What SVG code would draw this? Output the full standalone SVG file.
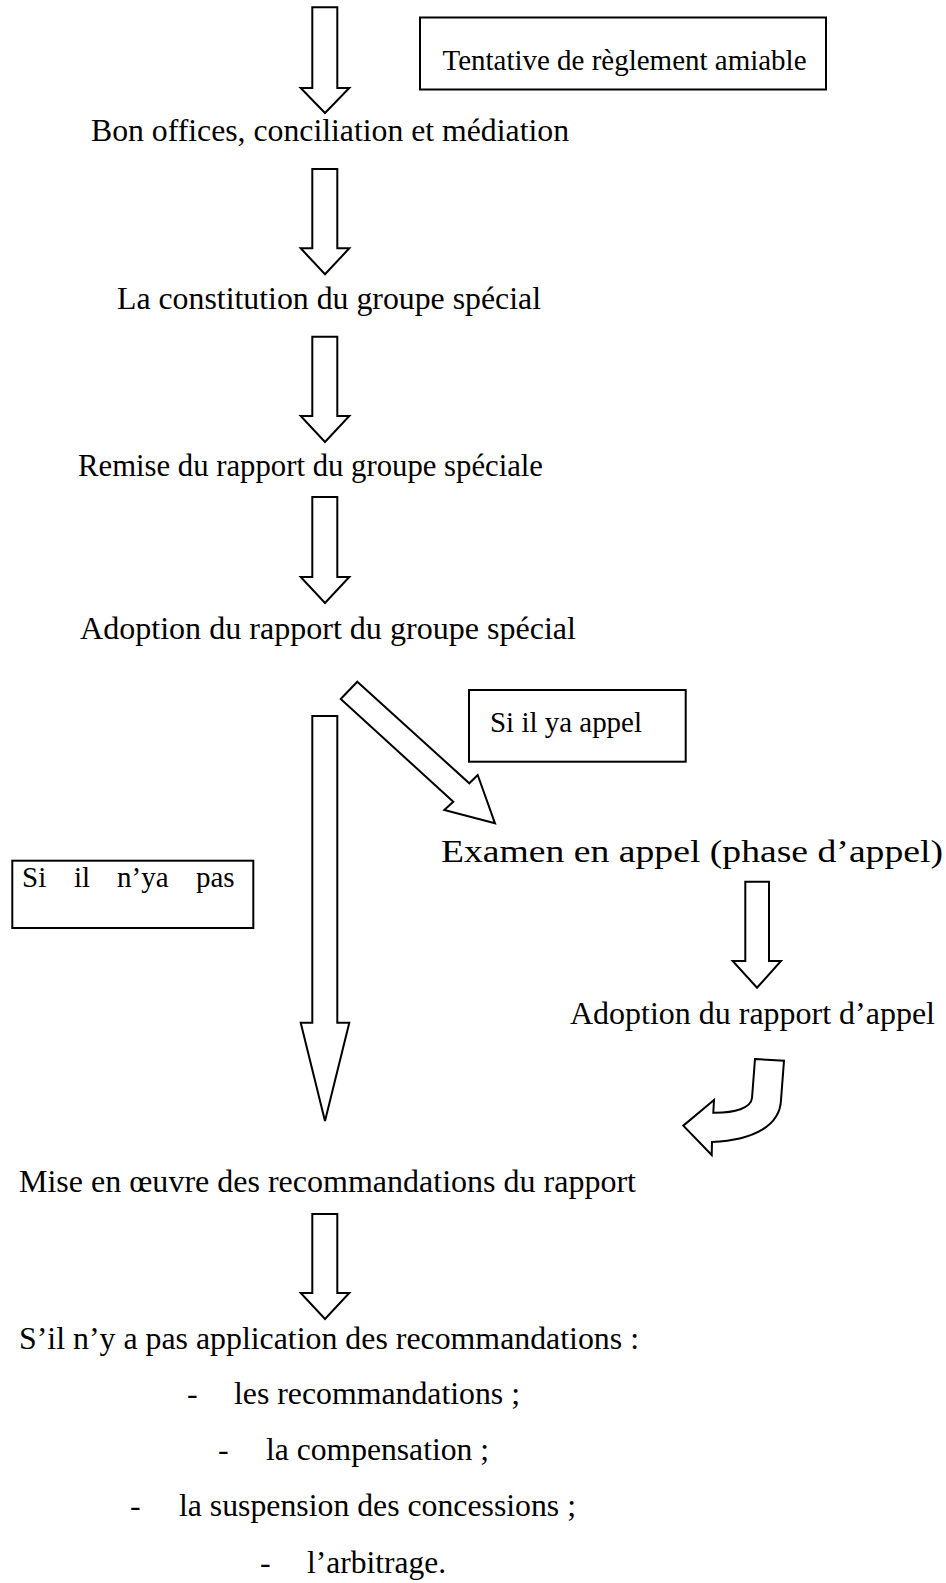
<svg xmlns="http://www.w3.org/2000/svg" width="946" height="1583" viewBox="0 0 946 1583">
<style>
.t{font-family:"Liberation Serif","Times New Roman",serif;font-size:32px;fill:#000}
.bt{font-family:"Liberation Serif","Times New Roman",serif;font-size:29px;fill:#000}
.box{fill:#fff;stroke:#000;stroke-width:2}
.arr{fill:#fff;stroke:#000;stroke-width:2;stroke-linejoin:miter}
</style>
<rect width="946" height="1583" fill="#fff"/>
<g id="connectors">
<path class="arr" d="M312.3,7.3 H337.3 V88 H349.3 L325,113 L300.7,88 H312.3 Z"/>
<path class="arr" d="M312.3,169 H337.3 V248.3 H349.3 L325,274.3 L300.7,248.3 H312.3 Z"/>
<path class="arr" d="M312.3,336.7 H337.3 V416 H349.3 L325,442 L300.7,416 H312.3 Z"/>
<path class="arr" d="M312.3,497 H337.3 V577 H349.3 L325,603 L300.7,577 H312.3 Z"/>
<path class="arr" d="M357.3,681.7 L469.3,783.3 L477.7,775 L495,823.3 L444.3,810 L453.3,801.7 L340.7,699 Z"/>
<path class="arr" d="M312.3,716 H337.3 V1022.7 H349.3 L325,1121 L300.7,1022.7 H312.3 Z"/>
<path class="arr" d="M745.3,881.7 H769 V961 H781 L757,987.7 L732.7,961 H745.3 Z"/>
<path class="arr" d="M755,1059 L784,1060.7 L781,1100 C780,1125 755,1140 712,1142 L711.7,1155 L683.3,1125.7 L714,1100 L713.3,1112.7 C735,1113 751,1108 752,1098 Z"/>
<path class="arr" d="M312.3,1214 H337.3 V1293 H349.3 L325,1319 L300.7,1293 H312.3 Z"/>
</g>
<g id="n-tentative">
<rect class="box" x="420" y="17.5" width="406" height="72"/>
<text class="bt" x="442.5" y="70" textLength="364" lengthAdjust="spacingAndGlyphs">Tentative de règlement amiable</text>
</g>
<g id="n-bons-offices">
<text class="t" x="91" y="141" textLength="478" lengthAdjust="spacingAndGlyphs">Bon offices, conciliation et médiation</text>
</g>
<g id="n-constitution">
<text class="t" x="117" y="309" textLength="424" lengthAdjust="spacingAndGlyphs">La constitution du groupe spécial</text>
</g>
<g id="n-remise">
<text class="t" x="78" y="476" textLength="465" lengthAdjust="spacingAndGlyphs">Remise du rapport du groupe spéciale</text>
</g>
<g id="n-adoption-gs">
<text class="t" x="80" y="639" textLength="496" lengthAdjust="spacingAndGlyphs">Adoption du rapport du groupe spécial</text>
</g>
<g id="n-si-appel">
<rect class="box" x="469" y="690" width="216.7" height="71.7"/>
<text class="bt" x="490" y="732" textLength="152" lengthAdjust="spacingAndGlyphs">Si il ya appel</text>
</g>
<g id="n-si-pas">
<rect class="box" x="12.3" y="860.7" width="241" height="67.3"/>
<text class="bt" y="887"><tspan x="22">Si</tspan><tspan x="74">il</tspan><tspan x="117">n’ya</tspan><tspan x="196">pas</tspan></text>
</g>
<g id="n-examen">
<text class="t" x="441" y="862" textLength="502" lengthAdjust="spacingAndGlyphs">Examen en appel (phase d’appel)</text>
</g>
<g id="n-adoption-appel">
<text class="t" x="570" y="1024" textLength="365" lengthAdjust="spacingAndGlyphs">Adoption du rapport d’appel</text>
</g>
<g id="n-mise">
<text class="t" x="19" y="1192" textLength="617" lengthAdjust="spacingAndGlyphs">Mise en œuvre des recommandations du rapport</text>
</g>
<g id="n-sanctions">
<text class="t" x="19" y="1349" textLength="620" lengthAdjust="spacingAndGlyphs">S’il n’y a pas application des recommandations :</text>
<text class="t" x="187" y="1404">-</text>
<text class="t" x="234" y="1404" textLength="286" lengthAdjust="spacingAndGlyphs">les recommandations ;</text>
<text class="t" x="218" y="1460">-</text>
<text class="t" x="266" y="1460" textLength="223" lengthAdjust="spacingAndGlyphs">la compensation ;</text>
<text class="t" x="130" y="1516">-</text>
<text class="t" x="179" y="1516" textLength="397" lengthAdjust="spacingAndGlyphs">la suspension des concessions ;</text>
<text class="t" x="260" y="1573">-</text>
<text class="t" x="307" y="1573" textLength="139" lengthAdjust="spacingAndGlyphs">l’arbitrage.</text>
</g>
</svg>
